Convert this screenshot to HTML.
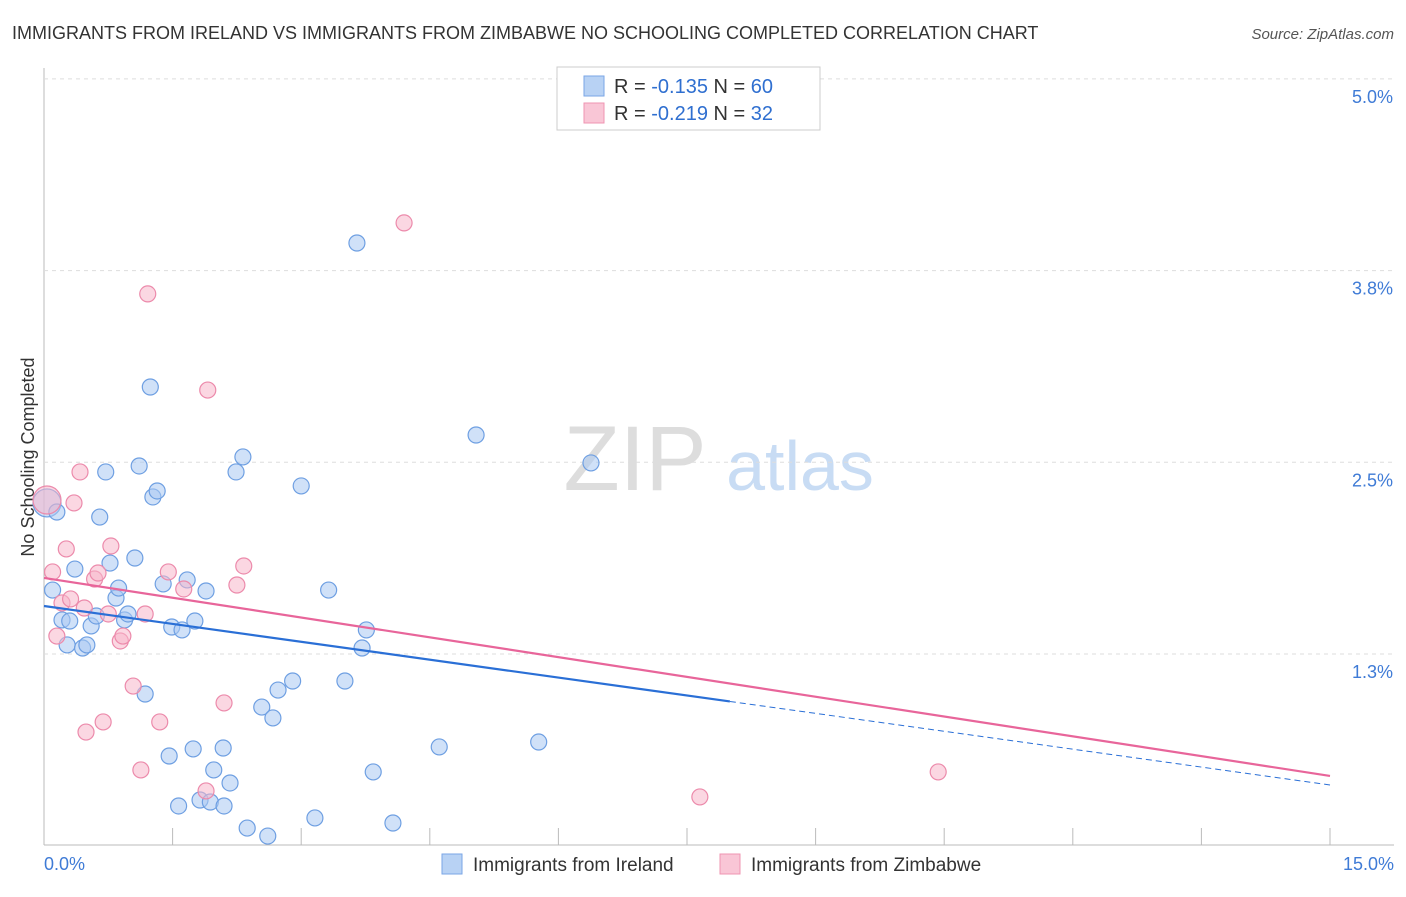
<!DOCTYPE html>
<html><head><meta charset="utf-8"><style>
body{margin:0;background:#fff;font-family:"Liberation Sans",sans-serif;}
svg text{font-family:"Liberation Sans",sans-serif;}
</style></head><body>
<svg id="c" width="1406" height="892" xmlns="http://www.w3.org/2000/svg">
<text x="12" y="39" font-size="18" fill="#333">IMMIGRANTS FROM IRELAND VS IMMIGRANTS FROM ZIMBABWE NO SCHOOLING COMPLETED CORRELATION CHART</text>
<text x="1394" y="39" font-size="15" fill="#555" font-style="italic" text-anchor="end">Source: ZipAtlas.com</text>
<text x="34" y="457" font-size="18" fill="#333" transform="rotate(-90 34 457)" text-anchor="middle">No Schooling Completed</text>
<g><text x="635" y="490" font-size="92" fill="#ddd" font-family="Liberation Serif,serif" text-anchor="middle">ZIP</text><text x="800" y="490" font-size="70" fill="#c8dcf4" text-anchor="middle">atlas</text></g>
<g id="grid"></g><g id="marks"></g>
<g>
<rect x="557" y="67" width="263" height="63" fill="#fff" stroke="#ccc"/>
<rect x="584" y="76" width="20" height="20" fill="#b8d2f4" stroke="#7aa6e6"/>
<rect x="584" y="103" width="20" height="20" fill="#f9c6d6" stroke="#ef94b2"/>
<text x="614" y="93" font-size="20" fill="#333">R = <tspan fill="#2f6fd0">-0.135</tspan>   N = <tspan fill="#2f6fd0">60</tspan></text>
<text x="614" y="120" font-size="20" fill="#333">R = <tspan fill="#2f6fd0">-0.219</tspan>   N = <tspan fill="#2f6fd0">32</tspan></text>
</g>
<g>
<rect x="442" y="854" width="20" height="20" fill="#b8d2f4" stroke="#7aa6e6"/>
<text x="473" y="871" font-size="19" fill="#333">Immigrants from Ireland</text>
<rect x="720" y="854" width="20" height="20" fill="#f9c6d6" stroke="#ef94b2"/>
<text x="751" y="871" font-size="19" fill="#333">Immigrants from Zimbabwe</text>
</g>
</svg>
<script>
const xTicks=[0,1.5,3,4.5,6,7.5,9,10.5,12,13.5,15];
const yTicks=[1.25,2.5,3.75,5.0];
const yTickLabels=["1.3%","2.5%","3.8%","5.0%"];
const irelandX=[0.035,0.15,0.10,0.36,0.21,0.30,0.27,0.45,0.50,0.55,0.61,0.65,0.72,0.77,0.84,0.87,0.94,0.98,1.06,1.11,1.24,1.27,1.32,1.18,1.39,1.46,1.49,1.57,1.61,1.67,1.74,1.76,1.82,1.89,1.94,1.98,2.09,2.10,2.17,2.24,2.32,2.37,2.54,2.61,2.67,2.73,2.90,3.00,3.16,3.32,3.51,3.65,3.71,3.76,3.84,4.07,4.61,5.04,5.77,6.38];
const irelandY=[2.235,2.176,1.667,1.804,1.472,1.465,1.309,1.289,1.309,1.433,1.498,2.143,2.437,1.843,1.615,1.680,1.472,1.511,1.876,2.476,2.991,2.274,2.313,0.989,1.707,0.585,1.426,0.259,1.407,1.733,0.631,1.465,0.298,1.661,0.285,0.494,0.637,0.259,0.409,2.437,2.535,0.115,0.904,0.063,0.833,1.015,1.074,2.346,0.181,1.667,1.074,3.930,1.289,1.407,0.481,0.148,0.644,2.678,0.676,2.496];
const zimX=[0.035,0.10,0.15,0.21,0.26,0.31,0.42,0.35,0.49,0.47,0.59,0.63,0.69,0.75,0.78,0.89,0.92,1.04,1.13,1.18,1.21,1.35,1.45,1.63,1.89,1.91,2.10,2.25,2.33,4.20,7.65,10.43];
const zimY=[2.254,1.785,1.367,1.583,1.935,1.609,2.437,2.235,0.741,1.550,1.739,1.778,0.807,1.511,1.954,1.335,1.367,1.041,0.494,1.511,3.598,0.807,1.785,1.674,0.357,2.971,0.931,1.700,1.824,4.061,0.318,0.481];
const irelandTrend=[1.563,0.396];
const zimTrend=[1.746,0.455];
const irelandSolidEnd=8.0;

const X0=44,X1=1330,Y0=845.7,YPER=191.7/1.25;
const sx=v=>X0+v/15*(X1-X0);
const sy=v=>Y0-v*YPER;
const NS="http://www.w3.org/2000/svg";
function mk(t,a,p){const e=document.createElementNS(NS,t);for(const k in a)e.setAttribute(k,a[k]);p.appendChild(e);return e;}
const grid=document.getElementById('grid'),marks=document.getElementById('marks');
const ax=mk('line',{x1:X0,y1:68,x2:X0,y2:845,stroke:'#bbb'},grid);


const bx=mk('line',{x1:X0,y1:845,x2:1394,y2:845,stroke:'#bbb'},grid);


yTicks.forEach((t,i)=>{
 const g=mk('line',{x1:X0,y1:sy(t),x2:1394,y2:sy(t),stroke:'#ddd','stroke-dasharray':'4 4'},grid);
 
 
 const l=mk('text',{x:1393,y:sy(t)+24,'font-size':18,fill:'#3f7bd6','text-anchor':'end'},grid);
 l.textContent=yTickLabels[i];
 
 
});
xTicks.forEach(t=>{
 const g=mk('line',{x1:sx(t),y1:828,x2:sx(t),y2:845,stroke:'#bbb'},grid);
 
 
});
const xl0=mk('text',{x:44,y:870,'font-size':18,fill:'#3f7bd6'},grid);xl0.textContent=xTicks[0].toFixed(1)+'%';


const xl1=mk('text',{x:1394,y:870,'font-size':18,fill:'#3f7bd6','text-anchor':'end'},grid);xl1.textContent=xTicks[xTicks.length-1].toFixed(1)+'%';


function pts(xs,ys,fill,stroke,name){
 xs.forEach((x,i)=>{
  const c=mk('circle',{cx:sx(x),cy:sy(ys[i]),r:i===0?14:8,fill:fill,'fill-opacity':0.55,stroke:stroke,'stroke-width':1.2},marks);
  
  
 });
}
pts(irelandX,irelandY,'#a9c8f2','#6e9fe2','ireland-point');
pts(zimX,zimY,'#f7b6cb','#ec8aab','zimbabwe-point');
const lineAt=(tr,x)=>tr[0]+(tr[1]-tr[0])*x/15;
const bl=mk('line',{x1:sx(0),y1:sy(irelandTrend[0]),x2:sx(irelandSolidEnd),y2:sy(lineAt(irelandTrend,irelandSolidEnd)),stroke:'#2a6fd6','stroke-width':2.2},marks);


const bd=mk('line',{x1:sx(irelandSolidEnd),y1:sy(lineAt(irelandTrend,irelandSolidEnd)),x2:sx(15),y2:sy(irelandTrend[1]),stroke:'#2a6fd6','stroke-width':1,'stroke-dasharray':'6 4'},marks);


const pl=mk('line',{x1:sx(0),y1:sy(zimTrend[0]),x2:sx(15),y2:sy(zimTrend[1]),stroke:'#e8659a','stroke-width':2.2},marks);


</script>
</body></html>
